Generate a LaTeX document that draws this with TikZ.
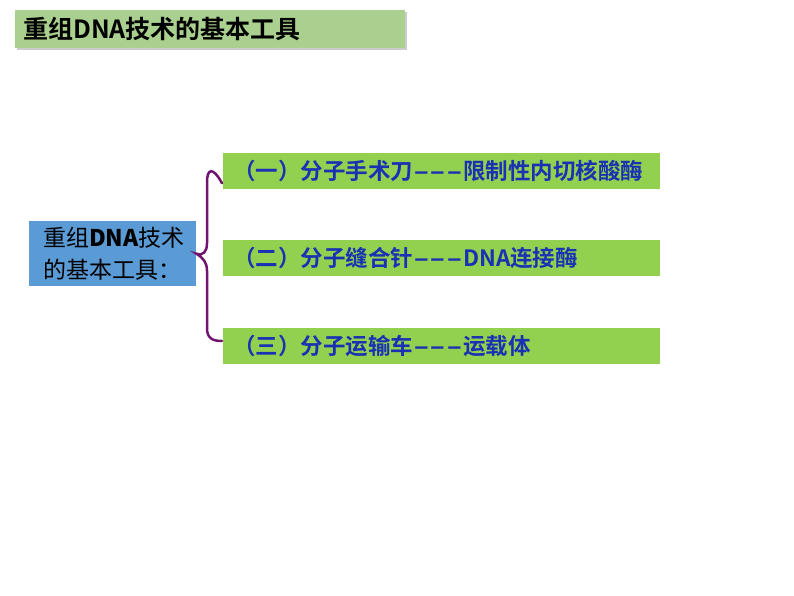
\documentclass[tikz,border=0pt]{standalone}
\usepackage{fontspec}
\setmainfont{Noto Sans CJK SC}
\newfontfamily\cjkb{Noto Sans CJK SC Bold}
\usetikzlibrary{shadows}
\definecolor{titlegreen}{RGB}{169,208,142}
\definecolor{boxgreen}{RGB}{146,208,80}
\definecolor{boxblue}{RGB}{91,155,213}
\definecolor{textblue}{RGB}{25,50,180}
\definecolor{bracepurple}{RGB}{112,20,112}
\newcommand{\dsh}{\scalebox{2}[1]{-{}-{}-}}
\tikzset{
  itembox/.style={fill=boxgreen, minimum width=437pt, minimum height=36pt, anchor=north west, inner sep=0pt, text=textblue, font=\cjkb\fontsize{22.5}{24}\selectfont, text width=417pt, align=left},
}
\begin{document}
\begin{tikzpicture}[x=1pt,y=-1pt]
\useasboundingbox (0,0) rectangle (794,596);
\node[fill=titlegreen, minimum width=390pt, minimum height=38pt, anchor=north west, inner sep=0pt, drop shadow={shadow xshift=1.5pt, shadow yshift=-1.5pt, opacity=0.4}, font=\cjkb\fontsize{25}{27}\selectfont, text width=374pt, align=left] (title) at (15,10) {重组DNA技术的基本工具};
\node[fill=boxblue, minimum width=167pt, minimum height=65pt, anchor=north west, inner sep=0pt, font=\fontsize{23}{32}\selectfont, text width=139pt, align=left] (main) at (29,221) {重组\textbf{DNA}技术\\的基本工具：};
\node[itembox] (a) at (223,153) {（一）分子手术刀\dsh 限制性内切核酸酶};
\node[itembox] (b) at (223,240) {（二）分子缝合针\dsh DNA连接酶};
\node[itembox] (c) at (223,328) {（三）分子运输车\dsh 运载体};
\draw[bracepurple, line width=2.5pt, line cap=round]
  (a.west) ++(-1,12) coordinate (t)
  (t) .. controls (212,165) and (207,170) .. (207,182)
  -- (207,243) .. controls (207,252) and (203,256) .. (main.east)
  .. controls (203,258) and (207,262) .. (207,271)
  -- (207,328) .. controls (207,338) and (212,341) .. (222,341);
\end{tikzpicture}
\end{document}
